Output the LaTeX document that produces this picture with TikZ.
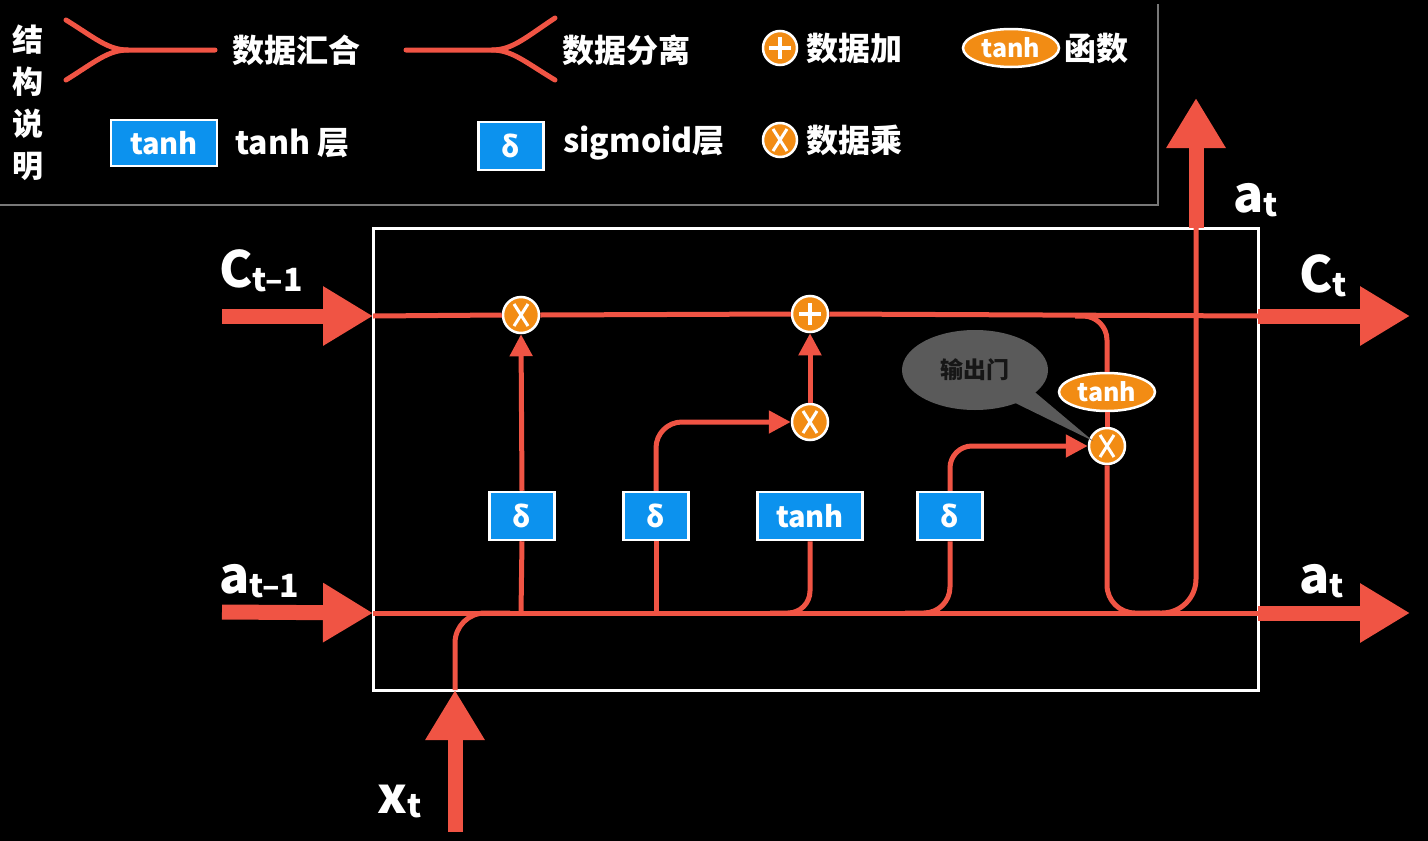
\documentclass[tikz,border=0pt]{standalone}
\usepackage{fontspec}
\setmainfont{Noto Sans CJK SC}
\usetikzlibrary{arrows.meta,shapes.geometric}
\definecolor{lred}{RGB}{240,84,68}
\definecolor{gorange}{RGB}{242,140,20}
\definecolor{lblue}{RGB}{12,146,238}
\definecolor{bubgray}{RGB}{90,90,90}
\definecolor{frgray}{RGB}{120,120,120}
\newcommand{\cellsym}[2]{{\fontsize{50}{54}\selectfont #1}{\fontsize{32}{34}\selectfont\raisebox{-4pt}{#2}}}
\begin{document}
\begin{tikzpicture}[x=1pt,y=-1pt,
  rl/.style={draw=lred,line width=5pt},
  sa/.style={-{Triangle[length=22pt,width=22pt]}},
  big/.style={draw=lred,line width=15pt,-{Triangle[length=50pt,width=56pt]}},
  mul/.style={circle,fill=gorange,draw=white,line width=2.5pt,minimum size=36pt,inner sep=0pt,
    path picture={\draw[white,line width=3pt]
      ([shift={(-7,-11)}]path picture bounding box.center) -- ([shift={(7,11)}]path picture bounding box.center)
      ([shift={(-7,11)}]path picture bounding box.center) -- ([shift={(7,-11)}]path picture bounding box.center);}},
  add/.style={circle,fill=gorange,draw=white,line width=2.5pt,minimum size=36pt,inner sep=0pt,
    path picture={\draw[white,line width=4.5pt]
      ([shift={(-11,0)}]path picture bounding box.center) -- ([shift={(11,0)}]path picture bounding box.center)
      ([shift={(0,-11)}]path picture bounding box.center) -- ([shift={(0,11)}]path picture bounding box.center);}},
  gate/.style={rectangle,fill=lblue,draw=white,line width=2.5pt,minimum height=48pt,inner sep=0pt,
    text=white,font=\fontsize{29}{30}\selectfont\bfseries},
  fn/.style={ellipse,fill=gorange,draw=white,line width=2.5pt,minimum width=96pt,minimum height=38pt,
    inner sep=0pt,text=white,font=\fontsize{25}{28}\selectfont\bfseries},
  lg/.style={text=white,anchor=west,font=\fontsize{32}{36}\selectfont\bfseries,inner sep=0pt},
  lbl/.style={text=white,inner sep=0pt,anchor=base west,font=\bfseries}]
% background
\fill[black] (0,0) rectangle (1428,841);
\useasboundingbox (0,0) rectangle (1428,841);

% ---------------- legend ----------------
\draw[frgray,line width=2pt] (0,205) -- (1158,205) -- (1158,4);
\node[text=white,align=center,font=\fontsize{31}{42}\selectfont\bfseries,inner sep=0pt] (title) at (28,103) {结\\构\\说\\明};
% converge
\coordinate (cj) at (128,50);
\draw[rl,line cap=round] (66,20) .. controls (95,38) and (108,50) .. (cj) -- (215,50);
\draw[rl,line cap=round] (66,80) .. controls (95,62) and (108,50) .. (cj);
\node[lg] (t1) at (232,50) {数据汇合};
% split
\coordinate (sj) at (492,50);
\draw[rl,line cap=round] (406,50) -- (sj) .. controls (512,50) and (525,38) .. (555,18);
\draw[rl,line cap=round] (sj) .. controls (512,50) and (525,62) .. (555,80);
\node[lg] (t2) at (562,50) {数据分离};
% add
\node[add,minimum size=34pt] (la) at (780,48) {};
\node[lg] (t3) at (806,48) {数据加};
% function
\node[fn] (lf) at (1011,48) {tanh};
\node[lg] (t4) at (1064,48) {函数};
% tanh layer
\node[gate,minimum width=106pt,minimum height=46pt] (lt) at (164,143) {tanh};
\node[lg] (t5) at (235,143) {tanh 层};
% sigmoid layer
\node[gate,minimum width=65pt] (ls) at (511,146) {δ};
\node[lg] (t6) at (563,143) {sigmoid层};
% mul
\node[mul,minimum size=34pt] (lm) at (780,140) {};
\node[lg] (t7) at (806,140) {数据乘};

% ---------------- cell ----------------
\draw[white,line width=3pt] (373,228) rectangle (1258,690);
\coordinate (Cl) at (373,316);
\coordinate (Cr) at (1258,316);
\coordinate (Al) at (373,613);
\coordinate (Ar) at (1258,613);

\node[mul] (m1) at (521,315) {};
\node[add] (p1) at (810,314) {};
\node[mul] (m2) at (810,422) {};
\node[mul] (m3) at (1107,446) {};
\node[gate,minimum width=65pt] (s1) at (522,516) {δ};
\node[gate,minimum width=65pt] (s2) at (656,516) {δ};
\node[gate,minimum width=105pt] (th) at (810,516) {tanh};
\node[gate,minimum width=65pt] (s3) at (950,516) {δ};
\node[fn] (t3f) at (1107,392) {tanh};

% speech bubble
\fill[bubgray] (1005,398) -- (1093,441) -- (1030,388) -- cycle;
\node[ellipse,fill=bubgray,minimum width=146pt,minimum height=80pt,inner sep=0pt,
  text={rgb,255:red,22;green,22;blue,22},font=\fontsize{23}{24}\selectfont\bfseries] (bub) at (975,370) {输出门};

% C line
\draw[rl] (Cl) -- (m1.west);
\draw[rl] (m1.east) -- (p1.west);
\draw[rl] (p1.east) -- (Cr);
% a line
\draw[rl] (Al) -- (Ar);
% gate connections
\draw[rl] (521,613) -- (s1.south);
\draw[rl,sa] (s1.north) -- (m1.south);
\draw[rl] (656,613) -- (s2.south);
\draw[rl,sa,rounded corners=26pt] (s2.north) |- (m2.west);
\draw[rl,sa] (m2.north) -- (p1.south);
\draw[rl,rounded corners=22pt] (770,613) -| (th.south);
\draw[rl,rounded corners=26pt] (905,613) -| (s3.south);
\draw[rl,sa,rounded corners=22pt] (s3.north) |- (m3.west);
% output path
\draw[rl,rounded corners=24pt] (1075,316) -| (t3f.north);
\draw[rl] (t3f.south) -- (m3.north);
\draw[rl,rounded corners=28pt] (m3.south) |- (1160,613);
\coordinate (up) at (1196,228);
\draw[rl,rounded corners=34pt] (1150,613) -| (up);
% x input
\coordinate (xin) at (455,690);
\draw[rl,rounded corners=30pt] (xin) |- (510,613);

% big arrows
\draw[big] (222,316) -- (Cl);
\draw[big] (222,612) -- (Al);
\draw[big] (Cr) -- (1410,316);
\draw[big] (Ar) -- (1410,613);
\draw[big] (455,832) -- (xin);
\draw[big] (up) -- (1196,98);

% labels
\node[lbl] (lC0) at (219,287) {\cellsym{C}{t–1}};
\node[lbl] (la0) at (219,593) {\cellsym{a}{t–1}};
\node[lbl] (lC1) at (1299,292) {\cellsym{C}{t}};
\node[lbl] (la1) at (1299,593) {\cellsym{a}{t}};
\node[lbl] (la2) at (1233,212) {\cellsym{a}{t}};
\node[lbl] (lx) at (377,813) {\cellsym{x}{t}};
\end{tikzpicture}
\end{document}
